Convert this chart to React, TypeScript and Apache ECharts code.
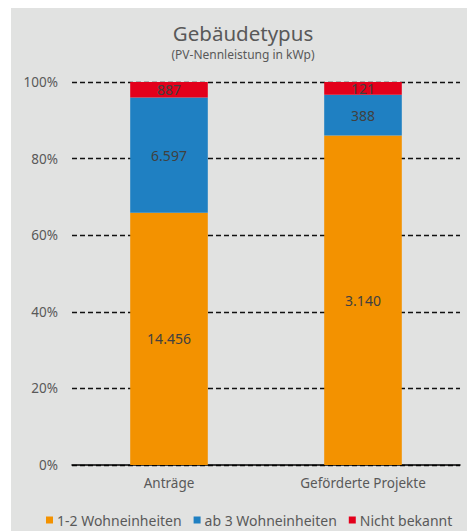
import React, { useEffect, useRef } from "react";
import * as echarts from "echarts";

const categories = ["Anträge", "Geförderte Projekte"];
const seriesNames = ["1-2 Wohneinheiten", "ab 3 Wohneinheiten", "Nicht bekannt"];
const wohn12 = [14456, 3140];
const wohn3 = [6597, 388];
const unbekannt = [887, 121];
const colors = ["#F39200", "#1F80C2", "#E3001B"];
const yTicks = [0, 20, 40, 60, 80, 100];

const fmt = (v: number) => String(v).replace(/\B(?=(\d{3})+(?!\d))/g, ".");

export default function App() {
  const ref = useRef<HTMLDivElement>(null);
  useEffect(() => {
    if (!ref.current) return;
    const chart = echarts.init(ref.current, undefined, { renderer: "svg" });
    const raw = [wohn12, wohn3, unbekannt];
    const totals = categories.map((_, i) => raw.reduce((s, a) => s + a[i], 0));
    const font = "'Noto Sans', sans-serif";
    chart.setOption({
      animation: false,
      backgroundColor: "#ffffff",
      textStyle: { fontFamily: font },
      graphic: [
        { type: "rect", z: -10, shape: { x: 11, y: 8, width: 460, height: 530 }, style: { fill: "#e1e2e1" } },
        { type: "text", x: 243, y: 32.5, style: { text: "Gebäudetypus", fontSize: 20.5, lineHeight: 21, fill: "#595959", align: "center", verticalAlign: "middle", fontFamily: font } },
        { type: "text", x: 243, y: 54.5, style: { text: "(PV-Nennleistung in kWp)", fontSize: 12, lineHeight: 12, fill: "#595959", align: "center", verticalAlign: "middle", fontFamily: font } },
      ],
      grid: { left: 72, right: 7, top: 82, bottom: 66 },
      legend: {
        left: 41,
        top: 508,
        itemWidth: 7,
        itemHeight: 7,
        itemGap: 12,
        icon: "rect",
        textStyle: { fontSize: 14, color: "#595959", fontFamily: font, padding: [0, 0, 0, -1] },
        data: seriesNames,
      },
      xAxis: {
        type: "category",
        data: categories,
        axisLine: { lineStyle: { color: "#000", width: 1.5 } },
        axisTick: { show: false },
        axisLabel: { fontSize: 13.5, color: "#595959", margin: 11, fontFamily: font },
      },
      yAxis: {
        type: "value",
        min: 0,
        max: 100,
        interval: 20,
        axisLine: { show: false },
        axisTick: { show: false },
        axisLabel: {
          fontSize: 13.5,
          color: "#595959",
          margin: 14,
          fontFamily: font,
          formatter: (v: number) => (yTicks.includes(v) ? v + "%" : ""),
        },
        splitLine: { lineStyle: { color: "#111", type: [5, 3], width: 1.3 } },
      },
      series: seriesNames.map((name, si) => ({
        name,
        type: "bar",
        stack: "total",
        barWidth: "40%",
        itemStyle: { color: colors[si] },
        label: {
          show: true,
          position: "inside",
          fontSize: 14,
          color: "#404040",
          fontFamily: font,
          formatter: (p: any) => fmt(raw[si][p.dataIndex]),
        },
        data: raw[si].map((v, i) => (v / totals[i]) * 100),
      })),
    });
    return () => chart.dispose();
  }, []);
  return <div ref={ref} style={{ position: "fixed", left: 0, top: 0, width: 467, height: 531 }} />;
}
